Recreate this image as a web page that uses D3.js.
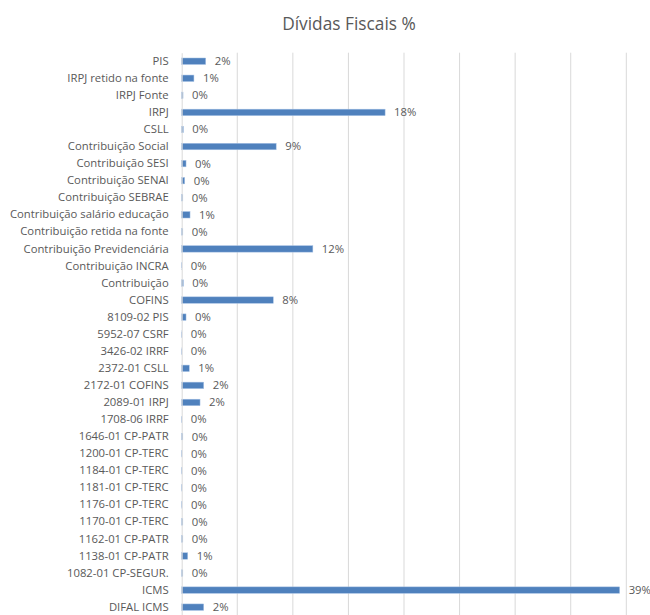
<!DOCTYPE html>
<html><head><meta charset="utf-8">
<script src="https://cdn.jsdelivr.net/npm/d3@7"></script>
<style>body{margin:0;background:#fff}</style>
</head><body>
<svg id="chart" width="650" height="615"></svg>
<script>
const categories = ["PIS","IRPJ retido na fonte","IRPJ Fonte","IRPJ","CSLL","Contribuição Social","Contribuição SESI","Contribuição SENAI","Contribuição SEBRAE","Contribuição salário educação","Contribuição retida na fonte","Contribuição Previdenciária","Contribuição INCRA","Contribuição","COFINS","8109-02 PIS","5952-07 CSRF","3426-02 IRRF","2372-01 CSLL","2172-01 COFINS","2089-01 IRPJ","1708-06 IRRF","1646-01 CP-PATR","1200-01 CP-TERC","1184-01 CP-TERC","1181-01 CP-TERC","1176-01 CP-TERC","1170-01 CP-TERC","1162-01 CP-PATR","1138-01 CP-PATR","1082-01 CP-SEGUR.","ICMS","DIFAL ICMS"];
const values = [2.16,1.1,0.12,18.3,0.15,8.5,0.39,0.27,0.1,0.75,0.1,11.8,0.01,0.15,8.24,0.39,0.01,0.01,0.68,1.98,1.65,0.01,0.1,0.02,0.02,0.02,0.02,0.1,0.1,0.54,0.1,39.4,1.98];
const xTicks = [0,5,10,15,20,25,30,35,40];
const title = "Dívidas Fiscais %";

const svg = d3.select("#chart");
const font = "'Open Sans', sans-serif";
const mLeft = 181.7, mRight = 626.3, mTop = 52.7, mBottom = 615.7;
const x = d3.scaleLinear().domain([0,40]).range([mLeft,mRight]);
const y = d3.scaleBand().domain(categories).range([mTop,mBottom]).paddingInner(0.62).paddingOuter(0.31);

svg.append("text").attr("x",349).attr("y",30).attr("text-anchor","middle")
  .attr("font-family",font).attr("font-size","17.3px").attr("fill","#595959").text(title);

svg.append("g").selectAll("line").data(xTicks.slice(1)).join("line")
  .attr("x1",d=>x(d)).attr("x2",d=>x(d)).attr("y1",mTop).attr("y2",mBottom)
  .attr("stroke","#d9d9d9").attr("stroke-width",1);

svg.append("g").selectAll("rect").data(values).join("rect")
  .attr("x",mLeft).attr("y",(d,i)=>y(categories[i]))
  .attr("width",d=>x(d)-mLeft).attr("height",y.bandwidth())
  .attr("fill","#4f81bd").attr("stroke","#a9c4e6").attr("stroke-width",0.5);

const yAxis = svg.append("g").attr("transform",`translate(${mLeft},0)`)
  .call(d3.axisLeft(y).tickSize(0).tickPadding(13));
yAxis.select(".domain").attr("stroke","#d9d9d9");
yAxis.selectAll("text").attr("font-family",font).attr("font-size","11.3px").attr("fill","#595959");

svg.append("g").selectAll("text").data(values).join("text")
  .attr("x",d=>x(d)+9).attr("y",(d,i)=>y(categories[i])+y.bandwidth()/2)
  .attr("dy","0.35em").attr("font-family",font).attr("font-size","11.3px").attr("fill","#595959")
  .text(d=>Math.round(d)+"%");
</script>
</body></html>
